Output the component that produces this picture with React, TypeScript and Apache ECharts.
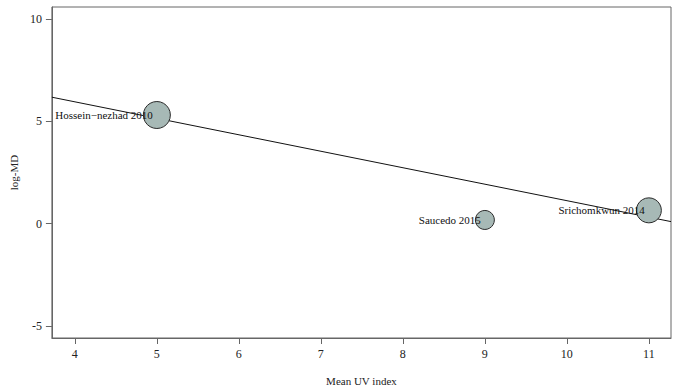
import React, { useEffect, useRef } from "react";
import * as echarts from "echarts";

const studies = ["Hossein\u2212nezhad 2010", "Saucedo 2015", "Srichomkwun 2014"];
const meanUV = [5, 9, 11];
const logMD = [5.31, 0.18, 0.65];
const bubbleSizes = [27, 19, 25];
const fitX = [3.72, 11.27];
const fitY = [6.18, 0.1];
const xTicks = [4, 5, 6, 7, 8, 9, 10, 11];
const yTicks = [-5, 0, 5, 10];

const FONT = "'Liberation Serif', 'DejaVu Serif', serif";

export default function App() {
  const ref = useRef<HTMLDivElement>(null);
  useEffect(() => {
    if (!ref.current) return;
    const chart = echarts.init(ref.current, null, { renderer: "svg" });
    chart.setOption({
      animation: false,
      backgroundColor: "#ffffff",
      textStyle: { fontFamily: FONT },
      grid: { left: 49, right: 8, top: 7, bottom: 53, show: true, borderColor: "#666", borderWidth: 1, backgroundColor: "transparent" },
      xAxis: {
        type: "value",
        min: 3.72,
        max: 11.27,
        name: "Mean UV index",
        nameLocation: "middle",
        nameGap: 37,
        nameTextStyle: { fontFamily: FONT, fontSize: 11, color: "#222" },
        axisLine: { show: true, onZero: false, lineStyle: { color: "#666" } },
        axisTick: { show: true, length: 6, lineStyle: { color: "#666" }, customValues: xTicks },
        axisLabel: { fontFamily: FONT, fontSize: 12, color: "#222", margin: 10, customValues: xTicks },
        splitLine: { show: false },
      },
      yAxis: {
        type: "value",
        min: -5.59,
        max: 10.59,
        name: "log-MD",
        nameLocation: "middle",
        nameGap: 29,
        nameRotate: 90,
        nameTextStyle: { fontFamily: FONT, fontSize: 11, color: "#222" },
        axisLine: { show: true, onZero: false, lineStyle: { color: "#666" } },
        axisTick: { show: true, length: 6, lineStyle: { color: "#666" }, customValues: yTicks },
        axisLabel: { fontFamily: FONT, fontSize: 12, color: "#222", margin: 10, customValues: yTicks },
        splitLine: { show: false },
      },
      series: [
        {
          type: "line",
          data: fitX.map((x, i) => [x, fitY[i]]),
          showSymbol: false,
          symbol: "none",
          lineStyle: { color: "#111", width: 1 },
          z: 2,
          silent: true,
        },
        {
          type: "scatter",
          data: meanUV.map((x, i) => ({
            value: [x, logMD[i]],
            name: studies[i],
            symbolSize: bubbleSizes[i],
          })),
          itemStyle: { color: "#a7b9b6", borderColor: "#2a2a2a", borderWidth: 1, opacity: 1 },
          label: {
            show: true,
            formatter: (p: any) => p.name,
            position: ["50%", "50%"],
            align: "right",
            verticalAlign: "middle",
            offset: [-4, 0],
            fontFamily: FONT,
            fontSize: 11,
            color: "#111",
          },
          z: 3,
        },
      ],
    });
    return () => chart.dispose();
  }, []);
  return <div ref={ref} style={{ width: 679, height: 391, position: "absolute", left: 0, top: 0 }} />;
}
